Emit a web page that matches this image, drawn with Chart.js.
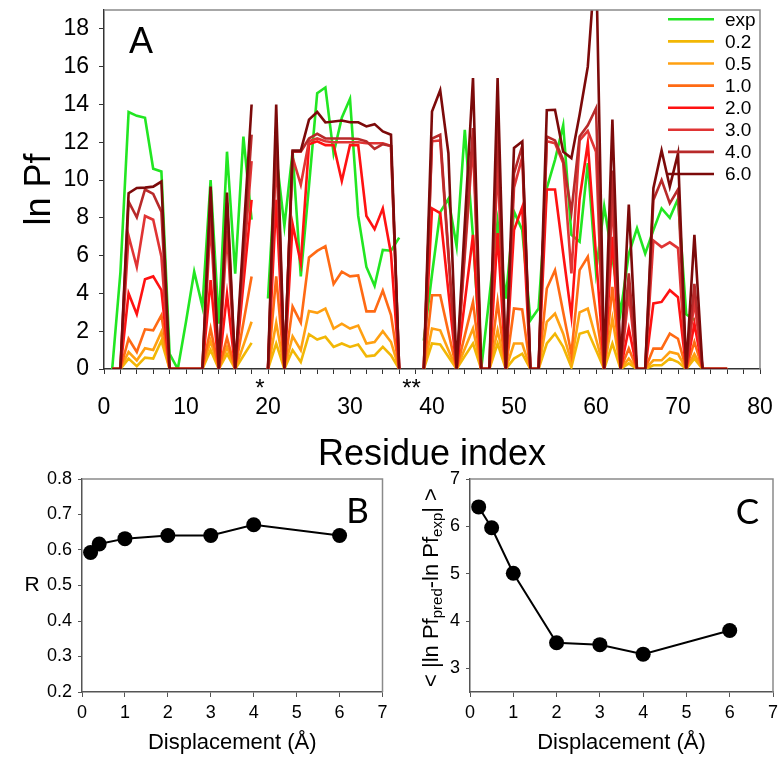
<!DOCTYPE html>
<html>
<head>
<meta charset="utf-8">
<script src="https://cdn.jsdelivr.net/npm/chart.js@4.4.0/dist/chart.umd.min.js"></script>
<style>
  body { margin: 0; background: #fff; }
  #wrap { position: relative; width: 781px; height: 759px; overflow: hidden; background: #fff; }
  canvas { position: absolute; }
</style>
</head>
<body>
<div id="wrap">
  <canvas id="chartA" width="781" height="480" style="left:0px;top:0px"></canvas>
  <canvas id="chartB" width="390" height="289" style="left:0px;top:470px"></canvas>
  <canvas id="chartC" width="391" height="289" style="left:390px;top:470px"></canvas>
</div>
<script>
// ---- data: panel A (ln Pf per residue) ----
var residues = [1,2,3,4,5,6,7,8,9,10,11,12,13,14,15,16,17,18,19,20,
  21,22,23,24,25,26,27,28,29,30,31,32,33,34,35,36,37,38,39,40,
  41,42,43,44,45,46,47,48,49,50,51,52,53,54,55,56,57,58,59,60,
  61,62,63,64,65,66,67,68,69,70,71,72,73,74,75,76];

var lnPfExp = [0,5.1,13.6,13.4,13.3,10.6,10.45,0.8,0,2.5,
  5.15,3.3,10.0,2.4,11.5,5.05,12.3,7.9,null,3.73,
  11.3,7.57,11.5,4.9,9.7,14.6,14.9,11.4,13.3,14.3,
  8.1,5.4,4.4,6.3,6.26,6.95,null,null,1.5,5.0,
  8.3,9.0,6.5,12.66,7.0,0,3.8,7.8,3.73,8.33,
  7.36,2.58,3.2,9.57,11.07,12.9,7.1,6.74,10.9,5.15,
  8.6,5.9,3.0,6.1,7.45,6.1,7.35,8.5,8.0,9.0,
  2.9,2.6,null,null,null,null];

var lnPf02 = [0,0,0.55,0.15,0.6,0.55,1.5,0,0,0,
  0,0,1.0,0,0.8,0,0.7,1.38,null,0,
  1.35,0,1.0,0.37,1.84,1.56,1.7,1.17,1.35,1.17,
  1.3,0.67,0.72,1.17,0.72,0,null,null,0,1.35,
  1.3,0.65,0,0.68,1.35,0,0,1.35,0,0.55,
  0.81,0,0,1.35,1.87,1.17,0.1,1.87,2.0,1.0,
  0,1.35,0,0.3,0,0,0.2,0.2,0.55,0.37,
  0,0.55,0,0,0,0];

var lnPf05 = [0,0,0.9,0.45,1.1,1.0,1.96,0,0,0,
  0,0,1.5,0,1.17,0,1.25,2.5,null,0,
  2.45,0,1.73,1.0,3.07,2.97,3.2,2.14,2.4,2.14,
  2.3,1.35,1.43,2.0,1.43,0,null,null,0,2.14,
  2.05,1.0,0,1.07,2.14,0,0,2.05,0,1.35,
  1.35,0,0,2.5,2.93,1.87,0.37,3.0,3.2,1.6,
  0,2.67,0,0.55,0,0,0.46,0.46,0.9,0.8,
  0,0.8,0,0,0,0];

var lnPf10 = [0,0,1.6,0.9,2.1,2.05,2.85,0,0,0,
  0,0,2.14,0,1.66,0,2.45,4.9,null,0,
  4.9,0,3.3,2.45,5.9,6.25,6.5,4.5,5.15,4.9,
  4.95,3.05,3.05,4.15,2.85,0,null,null,0,3.9,
  3.9,1.95,0,1.78,3.55,0,0,3.55,0,3.2,
  3.15,0,0,4.26,5.23,3.0,0.8,5.23,5.94,3.0,
  0,4.35,0,1.08,0,0,1.08,1.08,1.87,1.6,
  0,1.43,0,0,0,0];

var lnPf20 = [0,0,4.0,2.9,4.75,4.9,4.17,0,0,0,
  0,0,4.7,0,3.96,0,4.5,8.95,null,0,
  8.95,0,7.67,5.6,11.9,12.05,11.85,11.85,9.95,11.85,
  11.85,8.1,7.4,8.5,6.1,0,null,null,0,8.5,
  8.25,4.1,0,3.55,7.1,0,0,7.2,0,7.35,
  8.56,0,0,9.5,9.5,6.1,2.8,9.0,11.95,6.0,
  0,7.0,0,2.14,0,0,3.47,3.55,4.17,3.8,
  0,2.4,0,0,0,0];

var lnPf30 = [0,0,7.05,5.4,8.1,7.9,5.94,0,0,0,
  0,0,7.8,0,7.3,0,5.5,11.0,null,0,
  11.5,0,11.2,9.75,12.05,12.2,12.05,12.0,12.0,12.0,
  12.0,11.95,11.95,11.95,11.8,0,null,null,0,12.05,
  12.1,6.0,0,6.0,12.0,0,0,11.0,0,9.6,
  11.2,0,0,12.05,11.95,10.9,5.06,12.1,12.6,11.5,
  0,9.0,0,4.0,0,0,6.8,6.45,6.7,6.4,
  0,3.6,0,0,0,0];

var lnPf40 = [0,0,8.86,8.03,9.5,9.27,8.33,0,0,0,
  0,0,9.1,0,8.8,0,6.2,12.4,null,0,
  12.8,0,11.5,11.5,12.2,12.45,12.2,12.2,12.2,12.2,
  12.17,12.05,11.65,11.9,11.8,0,null,null,0,12.2,
  12.4,6.2,0,6.4,12.75,0,0,13.0,0,10.36,
  11.8,0,0,12.3,12.1,11.07,8.3,12.3,12.9,13.8,
  0,10.5,0,5.06,0,0,8.95,10.0,8.77,9.5,
  0,4.5,0,0,0,0];

var lnPf60 = [0,0,9.3,9.58,9.6,9.65,9.92,0,0,0,
  0,0,9.65,0,9.34,0,7.0,14.0,null,0,
  14.0,0,11.56,11.56,13.2,13.6,13.05,13.1,13.15,13.06,
  13.06,12.84,12.96,12.57,12.4,0,null,null,0,13.63,
  14.75,11.42,0,7.7,15.4,0,0,15.4,0,11.7,
  12.04,0,0,13.7,13.72,11.5,11.16,13.45,16.0,22.0,
  0,13.2,0,8.7,0,0,9.57,11.56,9.65,11.4,
  0,7.1,0,0,0,0];

var seriesNames = ['exp', '0.2', '0.5', '1.0', '2.0', '3.0', '4.0', '6.0'];
var seriesColors = ['#22e622', '#f2b705', '#ffa012', '#ff6a14', '#ff1212', '#e03434', '#b82a2a', '#7c0a0a'];
var seriesData = [lnPfExp, lnPf02, lnPf05, lnPf10, lnPf20, lnPf30, lnPf40, lnPf60];

// ---- data: panels B and C ----
var dispB = [0.2, 0.4, 1, 2, 3, 4, 6];
var rValues = [0.593, 0.617, 0.632, 0.641, 0.641, 0.671, 0.641];
var dispC = [0.2, 0.5, 1, 2, 3, 4, 6];
var meanDiff = [6.41, 5.97, 5.01, 3.54, 3.50, 3.30, 3.80];

var FONT = "'Liberation Sans', Arial, sans-serif";
Chart.defaults.font.family = FONT;
Chart.defaults.color = '#000';

function toPoints(xs, ys) {
  return xs.map(function (x, i) { return {x: x, y: ys[i]}; });
}

// fixed axis size, and no extra room for overhanging labels
function fixSize(w, h) {
  return function (s) {
    if (w !== null) s.width = w;
    if (h !== null) s.height = h;
    s.paddingTop = 0; s.paddingBottom = 0;
    s.paddingLeft = 0; s.paddingRight = 0;
  };
}

// grey frame on top and right like the original
var framePlugin = {
  id: 'frame',
  afterDraw: function (chart) {
    var a = chart.chartArea, ctx = chart.ctx;
    ctx.save();
    ctx.strokeStyle = '#8a8a8a';
    ctx.lineWidth = 1.5;
    ctx.beginPath();
    ctx.moveTo(a.left, a.top);
    ctx.lineTo(a.right, a.top);
    ctx.lineTo(a.right, a.bottom);
    ctx.stroke();
    ctx.restore();
  }
};

//panel A --------------------------------------------------------------------
var datasetsA = seriesData.map(function (vals, i) {
  return {
    label: seriesNames[i],
    data: toPoints(residues, vals),
    borderColor: seriesColors[i],
    backgroundColor: seriesColors[i],
    borderWidth: 2.6,
    pointRadius: 0,
    tension: 0,
    spanGaps: false,
    order: seriesData.length - i
  };
});

var panelAPlugin = {
  id: 'panelA',
  afterDraw: function (chart) {
    var ctx = chart.ctx, a = chart.chartArea, xs = chart.scales.x;
    ctx.save();
    ctx.fillStyle = '#000';
    ctx.font = '36px ' + FONT;
    ctx.textAlign = 'center';
    ctx.textBaseline = 'alphabetic';
    ctx.fillText('A', 141, 53);

    // proline markers
    ctx.font = '24px ' + FONT;
    ctx.fillText('*', xs.getPixelForValue(19), a.bottom + 27);
    ctx.fillText('**', xs.getPixelForValue(37.5), a.bottom + 27);

    // legend inside the plot
    ctx.font = '19px ' + FONT;
    ctx.textAlign = 'left';
    ctx.textBaseline = 'middle';
    chart.data.datasets.forEach(function (ds, i) {
      var y = 19.3 + i * 22.1;
      ctx.strokeStyle = ds.borderColor;
      ctx.lineWidth = 2.6;
      ctx.beginPath();
      ctx.moveTo(668, y);
      ctx.lineTo(714, y);
      ctx.stroke();
      ctx.fillText(ds.label, 725, y + 1);
    });
    ctx.restore();
  }
};

var chartA = new Chart(document.getElementById('chartA').getContext('2d'), {
  type: 'line',
  data: { datasets: datasetsA },
  options: {
    responsive: false,
    animation: false,
    devicePixelRatio: 1,
    layout: { padding: { left: 0, top: 10, right: 21, bottom: 0 } },
    plugins: { legend: { display: false }, tooltip: { enabled: false } },
    scales: {
      x: {
        type: 'linear', min: 0, max: 80,
        afterFit: fixSize(null, 111),
        border: { color: '#333', width: 1.5 },
        grid: { drawOnChartArea: false, tickLength: 5, tickColor: '#333' },
        ticks: {
          stepSize: 2, autoSkip: false, maxRotation: 0, padding: 20,
          font: { size: 23 },
          callback: function (v) { return v % 10 === 0 ? v : ''; }
        },
        title: { display: true, text: 'Residue index', font: { size: 36 }, padding: { top: 0, bottom: 3 } }
      },
      y: {
        min: 0, max: 19,
        afterFit: fixSize(104, null),
        border: { color: '#333', width: 1.5 },
        grid: { drawOnChartArea: false, tickLength: 5, tickColor: '#333' },
        ticks: { stepSize: 2, includeBounds: false, padding: 10, font: { size: 23 } },
        title: { display: true, text: 'ln Pf', font: { size: 36 }, padding: { top: 18, bottom: 0 } }
      }
    }
  },
  plugins: [framePlugin, panelAPlugin]
});

//panels B and C -------------------------------------------------------------
function smallOptions(yMin, yMax, yStep, yWidth, yFix, rightPad) {
  return {
    responsive: false,
    animation: false,
    devicePixelRatio: 1,
    layout: { padding: { left: 0, top: 9, right: rightPad, bottom: 0 } },
    plugins: { legend: { display: false }, tooltip: { enabled: false } },
    scales: {
      x: {
        type: 'linear', min: 0, max: 7,
        afterFit: fixSize(null, 67),
        border: { color: '#555', width: 1.5 },
        grid: { drawOnChartArea: false, tickLength: 5, tickColor: '#555' },
        ticks: { stepSize: 1, padding: 5, font: { size: 18 } },
        title: { display: true, text: 'Displacement (\u00c5)', font: { size: 22 }, padding: { top: 0, bottom: 3 } }
      },
      y: {
        min: yMin, max: yMax,
        afterFit: fixSize(yWidth, null),
        border: { color: '#555', width: 1.5 },
        grid: { drawOnChartArea: false, tickLength: 4, tickColor: '#555' },
        ticks: {
          stepSize: yStep, includeBounds: false, padding: 6, font: { size: 18 },
          callback: function (v) { return v.toFixed(yFix); }
        }
      }
    }
  };
}

function smallDataset(xs, ys) {
  return [{
    data: toPoints(xs, ys),
    borderColor: '#000',
    backgroundColor: '#000',
    borderWidth: 2,
    pointRadius: 7.5,
    pointBorderWidth: 0,
    tension: 0
  }];
}

var panelBPlugin = {
  id: 'panelB',
  afterDraw: function (chart) {
    var ctx = chart.ctx, a = chart.chartArea;
    ctx.save();
    ctx.fillStyle = '#000';
    ctx.textAlign = 'center';
    ctx.textBaseline = 'middle';
    ctx.font = '21px ' + FONT;
    ctx.fillText('R', 32, (a.top + a.bottom) / 2);
    ctx.font = "35px Lato, 'Open Sans', sans-serif";
    ctx.textBaseline = 'alphabetic';
    ctx.fillText('B', 357.5, 53);
    ctx.restore();
  }
};

var panelCPlugin = {
  id: 'panelC',
  afterDraw: function (chart) {
    var ctx = chart.ctx, a = chart.chartArea;
    ctx.save();
    ctx.fillStyle = '#000';
    ctx.textAlign = 'center';
    ctx.font = "35px Lato, 'Open Sans', sans-serif";
    ctx.fillText('C', 357.5, 54);

    // y title with subscripts, rotated
    var parts = [
      { t: '< |ln Pf', sub: false },
      { t: 'pred', sub: true },
      { t: '-ln Pf', sub: false },
      { t: 'exp', sub: true },
      { t: '| >', sub: false }
    ];
    var mainFont = '22px ' + FONT, subFont = '15px ' + FONT;
    ctx.translate(42, (a.top + a.bottom) / 2 + 2);
    ctx.rotate(-Math.PI / 2);
    ctx.textAlign = 'left';
    ctx.textBaseline = 'middle';
    var total = 0;
    parts.forEach(function (p) {
      ctx.font = p.sub ? subFont : mainFont;
      p.w = ctx.measureText(p.t).width;
      total += p.w;
    });
    var cx = -total / 2;
    parts.forEach(function (p) {
      ctx.font = p.sub ? subFont : mainFont;
      ctx.fillText(p.t, cx, p.sub ? 6 : 0);
      cx += p.w;
    });
    ctx.restore();
  }
};

var chartB = new Chart(document.getElementById('chartB').getContext('2d'), {
  type: 'line',
  data: { datasets: smallDataset(dispB, rValues) },
  options: smallOptions(0.2, 0.8, 0.1, 82, 1, 5),
  plugins: [framePlugin, panelBPlugin]
});

var chartC = new Chart(document.getElementById('chartC').getContext('2d'), {
  type: 'line',
  data: { datasets: smallDataset(dispC, meanDiff) },
  options: smallOptions(2.5, 7, 1, 80, 0, 8),
  plugins: [framePlugin, panelCPlugin]
});
</script>
</body>
</html>
